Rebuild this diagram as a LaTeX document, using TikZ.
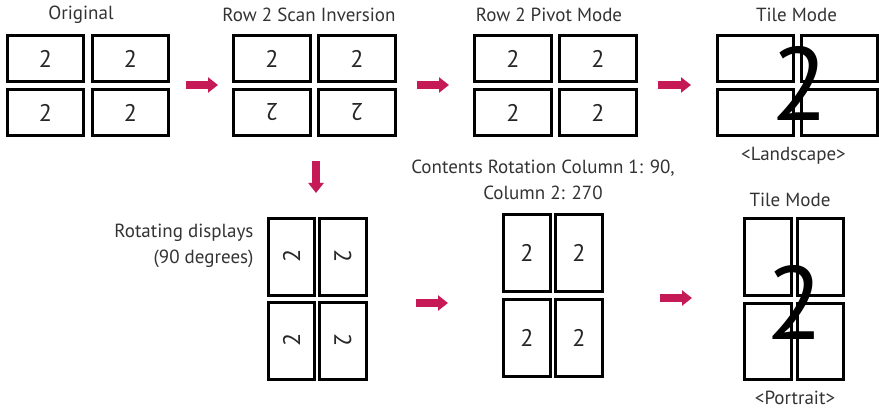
\documentclass[tikz,border=0pt]{standalone}
\usepackage{tikz}
\usetikzlibrary{arrows.meta}
\usepackage{fontspec}
\setmainfont{PT Sans}
\definecolor{lgred}{RGB}{197,26,86}

\begin{document}
\begin{tikzpicture}[x=1pt,y=-1pt]
\tikzstyle{panel} = [draw,line width=3.3pt,minimum width=76.5pt,minimum height=46.5pt,inner sep=0pt,text=black!85,font=\fontsize{24}{24}\selectfont]
\tikzstyle{tall} = [panel,minimum width=46.5pt,minimum height=76.5pt]
\tikzstyle{tile} = [panel,line width=2.7pt]
\tikzstyle{talltile} = [tall,line width=2.7pt]
\tikzstyle{title} = [text=black!80,align=center,font=\fontsize{19}{26}\selectfont]
\tikzstyle{bignum} = [inner sep=0pt,font=\fontsize{104}{104}\selectfont]
\tikzstyle{redarrow} = [lgred,line width=8pt,-{Triangle[length=10pt,width=15pt]}]

\useasboundingbox (0,0) rectangle (879,409);

% top row
\node[title] (t1) at (81,15) {Original};
\node[panel] (o1) at (45.5,58.5) {2};
\node[panel,right of=o1,node distance=85pt] (o2) {2};
\node[panel,below of=o1,node distance=54pt] (o3) {2};
\node[panel,right of=o3,node distance=85pt] (o4) {2};

\node[title] (t2) at (309,15) {Row 2 Scan Inversion};
\node[panel] (s1) at (272,58.5) {2};
\node[panel,right of=s1,node distance=85pt] (s2) {2};
\node[panel,below of=s1,node distance=54pt] (s3) {\rotatebox[origin=c]{180}{2}};
\node[panel,right of=s3,node distance=85pt] (s4) {\rotatebox[origin=c]{180}{2}};

\node[title] (t3) at (549,15) {Row 2 Pivot Mode};
\node[panel] (p1) at (513,58.5) {2};
\node[panel,right of=p1,node distance=85pt] (p2) {2};
\node[panel,below of=p1,node distance=54pt] (p3) {2};
\node[panel,right of=p3,node distance=85pt] (p4) {2};

\node[title] (t4) at (796.5,15) {Tile Mode};
\node[tile] (l1) at (755.5,58.5) {};
\node[tile,right of=l1,node distance=84pt] (l2) {};
\node[tile,below of=l1,node distance=54pt] (l3) {};
\node[tile,right of=l3,node distance=84pt] (l4) {};
\node[bignum] (lbig) at (800,83.5) {2};
\node[title] (lname) at (793.5,156) {<Landscape>};

% bottom row
\node[title,anchor=east,align=right] (t5) at (257,246) {Rotating displays\\(90 degrees)};
\node[tall] (r1) at (291.5,257) {\rotatebox[origin=c]{90}{2}};
\node[tall,right of=r1,node distance=51.5pt] (r2) {\rotatebox[origin=c]{-90}{2}};
\node[tall,below of=r1,node distance=84pt] (r3) {\rotatebox[origin=c]{90}{2}};
\node[tall,right of=r3,node distance=51.5pt] (r4) {\rotatebox[origin=c]{-90}{2}};

\node[title] (t6) at (543,180) {Contents Rotation Column 1: 90,\\Column 2: 270};
\node[tall] (c1) at (527,253) {2};
\node[tall,right of=c1,node distance=52pt] (c2) {2};
\node[tall,below of=c1,node distance=85pt] (c3) {2};
\node[tall,right of=c3,node distance=52pt] (c4) {2};

\node[title] (t7) at (790,200) {Tile Mode};
\node[talltile] (q1) at (768,257) {};
\node[talltile,right of=q1,node distance=52.5pt] (q2) {};
\node[talltile,below of=q1,node distance=84.5pt] (q3) {};
\node[talltile,right of=q3,node distance=52.5pt] (q4) {};
\node[bignum] (qbig) at (795,302) {2};
\node[title] (qname) at (795,398) {<Portrait>};

% arrows
\coordinate (a1s) at (186,85);
\coordinate (a1e) at (218,85);
\coordinate (a2s) at (417,85);
\coordinate (a2e) at (449,85);
\coordinate (a3s) at (658,85);
\coordinate (a3e) at (691,85);
\coordinate (a4s) at (316,161);
\coordinate (a4e) at (316,193);
\coordinate (a5s) at (416,303);
\coordinate (a5e) at (448,303);
\coordinate (a6s) at (660,298);
\coordinate (a6e) at (692,298);
\draw[redarrow] (a1s) -- (a1e);
\draw[redarrow] (a2s) -- (a2e);
\draw[redarrow] (a3s) -- (a3e);
\draw[redarrow] (a4s) -- (a4e);
\draw[redarrow] (a5s) -- (a5e);
\draw[redarrow] (a6s) -- (a6e);

\end{tikzpicture}
\end{document}
